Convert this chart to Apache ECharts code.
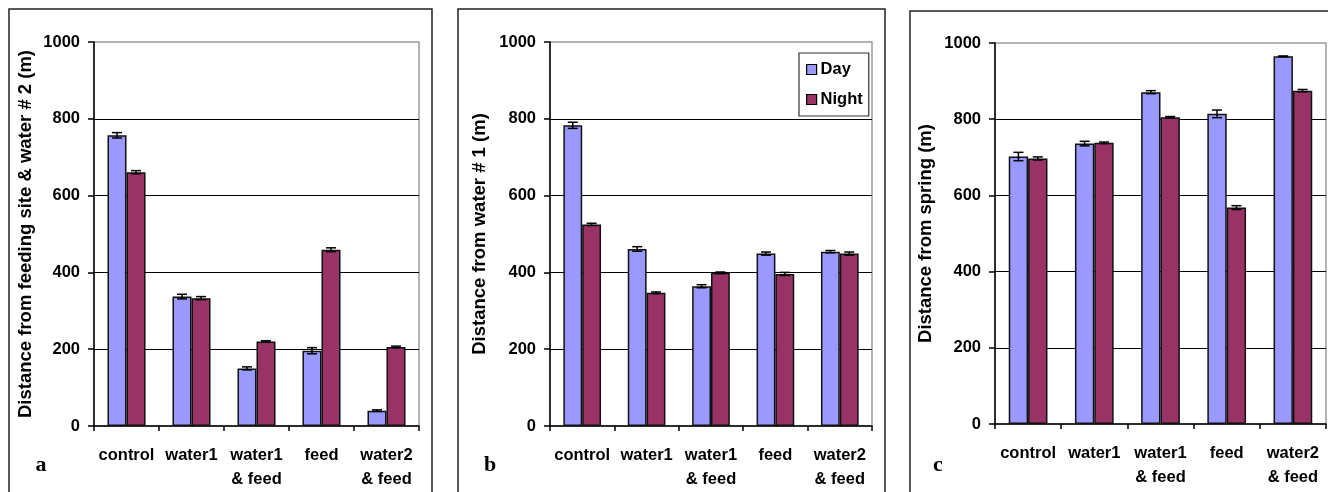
<!DOCTYPE html>
<html>
<head>
<meta charset="utf-8">
<script src="https://cdn.jsdelivr.net/npm/echarts@6/dist/echarts.min.js"></script>
<style>
  html, body { margin: 0; padding: 0; background: #fff; }
  #chart { width: 1328px; height: 492px; }
</style>
</head>
<body>
<div id="chart"></div>
<script>
// Treatment groups shared by all three panels
const categories = ['control', 'water1', 'water1\n& feed', 'feed', 'water2\n& feed'];
const yTicks = [0, 200, 400, 600, 800, 1000];

// Panel a: distance from feeding site & water #2 (m)
const aDay = [757, 337, 150, 196, 40];
const aDayErr = [7, 6, 4, 8, 2];
const aNight = [661, 333, 220, 459, 206];
const aNightErr = [4, 4, 2, 5, 2];

// Panel b: distance from water #1 (m)
const bDay = [783, 461, 364, 449, 454];
const bDayErr = [8, 6, 4, 4, 3];
const bNight = [525, 347, 399, 396, 449];
const bNightErr = [3, 2, 2, 4, 4];

// Panel c: distance from spring (m)
const cDay = [702, 736, 871, 814, 965];
const cDayErr = [11, 6, 4, 10, 1];
const cNight = [697, 738, 805, 568, 875];
const cNightErr = [4, 2, 2, 5, 3];

const panelTitles = [
  'Distance from feeding site & water # 2 (m)',
  'Distance from water # 1 (m)',
  'Distance from spring (m)'
];
const panelLetters = ['a', 'b', 'c'];

const DAY_COLOR = '#9999FF';
const NIGHT_COLOR = '#993366';
const FONT = '"Liberation Sans", Arial, sans-serif';
const CAT_GAP = 0.415;

const panels = [
  { day: aDay, dayErr: aDayErr, night: aNight, nightErr: aNightErr },
  { day: bDay, dayErr: bDayErr, night: bNight, nightErr: bNightErr },
  { day: cDay, dayErr: cDayErr, night: cNight, nightErr: cNightErr }
];

const grids = [
  { left: 94, right: 909, top: 42, bottom: 66 },
  { left: 550, right: 456, top: 42, bottom: 66 },
  { left: 995, right: 2, top: 43, bottom: 68 }
];
const nameGaps = [59, 61, 60];

const chart = echarts.init(document.getElementById('chart'), null, { renderer: 'canvas' });

// Error bars: vertical whisker with caps, offset to the day (-1) or night (+1) bar
function errorBarRenderer(side) {
  return function (params, api) {
    const idx = api.value(0);
    const val = api.value(1);
    const err = api.value(2);
    const catW = api.size([1, 0])[0];
    const barW = catW * (1 - CAT_GAP) / 2;
    const center = api.coord([idx, val]);
    const x = center[0] + side * barW / 2;
    const hi = api.coord([idx, val + err])[1];
    const lo = api.coord([idx, val - err])[1];
    const cap = 5;
    const style = { stroke: '#000', lineWidth: 1.5 };
    return {
      type: 'group',
      children: [
        { type: 'line', shape: { x1: x, y1: hi, x2: x, y2: lo }, style },
        { type: 'line', shape: { x1: x - cap, y1: hi, x2: x + cap, y2: hi }, style },
        { type: 'line', shape: { x1: x - cap, y1: lo, x2: x + cap, y2: lo }, style }
      ]
    };
  };
}

const series = [];
panels.forEach((p, i) => {
  series.push({
    name: 'Day', type: 'bar', xAxisIndex: i, yAxisIndex: i,
    data: p.day, barGap: '0%', barCategoryGap: (CAT_GAP * 100) + '%',
    itemStyle: { color: DAY_COLOR, borderColor: '#111', borderWidth: 1.5 },
    emphasis: { disabled: true }, animation: false
  });
  series.push({
    name: 'Night', type: 'bar', xAxisIndex: i, yAxisIndex: i,
    data: p.night, barGap: '0%', barCategoryGap: (CAT_GAP * 100) + '%',
    itemStyle: { color: NIGHT_COLOR, borderColor: '#111', borderWidth: 1.5 },
    emphasis: { disabled: true }, animation: false
  });
  series.push({
    type: 'custom', xAxisIndex: i, yAxisIndex: i, z: 5,
    renderItem: errorBarRenderer(-1),
    data: p.day.map((v, k) => [k, v, p.dayErr[k]]), animation: false, silent: true
  });
  series.push({
    type: 'custom', xAxisIndex: i, yAxisIndex: i, z: 5,
    renderItem: errorBarRenderer(1),
    data: p.night.map((v, k) => [k, v, p.nightErr[k]]), animation: false, silent: true
  });
});

const letterFont = 'bold 22px "Liberation Serif", "Times New Roman", serif';

const option = {
  animation: false,
  backgroundColor: '#fff',
  grid: grids.map(g => Object.assign({
    show: true, borderColor: '#9a9a9a', borderWidth: 1.5, backgroundColor: 'transparent'
  }, g)),
  xAxis: grids.map((g, i) => ({
    type: 'category', gridIndex: i, data: categories,
    axisLine: { lineStyle: { color: '#000', width: 1.5 } },
    axisTick: { show: true, length: 5, lineStyle: { color: '#000', width: 1.5 } },
    axisLabel: {
      color: '#000', fontFamily: FONT, fontWeight: 'bold', fontSize: 16.5,
      lineHeight: 24, margin: 17, interval: 0
    },
    splitLine: { show: false }
  })),
  yAxis: grids.map((g, i) => ({
    type: 'value', gridIndex: i, min: yTicks[0], max: yTicks[yTicks.length - 1],
    interval: yTicks[1] - yTicks[0],
    name: panelTitles[i], nameLocation: 'middle', nameRotate: 90, nameGap: nameGaps[i],
    nameTextStyle: { color: '#000', fontFamily: FONT, fontWeight: 'bold', fontSize: 18.5 },
    axisLine: { show: true, lineStyle: { color: '#000', width: 1.5 } },
    axisTick: { show: true, length: 6, lineStyle: { color: '#000', width: 1.5 } },
    axisLabel: {
      color: '#000', fontFamily: FONT, fontWeight: 'bold', fontSize: 16.5, margin: 14,
      formatter: v => String(v)
    },
    splitLine: { show: true, showMinLine: false, showMaxLine: false, lineStyle: { color: '#000', width: 1.2 } }
  })),
  legend: {
    data: ['Day', 'Night'],
    orient: 'vertical', left: 799, top: 53,
    padding: [8, 6, 8, 7], itemGap: 13,
    itemWidth: 10, itemHeight: 10, icon: 'rect',
    borderColor: '#333', borderWidth: 1.2, backgroundColor: '#fff',
    textStyle: { color: '#000', fontFamily: FONT, fontWeight: 'bold', fontSize: 16.5, padding: [0, 0, 0, -1] },
    itemStyle: { borderColor: '#000', borderWidth: 1.2 },
    selectedMode: false
  },
  graphic: [
    { type: 'rect', shape: { x: 9, y: 9, width: 423, height: 520 }, style: { fill: 'none', stroke: '#222', lineWidth: 1.5 }, z: 0 },
    { type: 'rect', shape: { x: 458, y: 9, width: 427, height: 520 }, style: { fill: 'none', stroke: '#222', lineWidth: 1.5 }, z: 0 },
    { type: 'rect', shape: { x: 910, y: 11, width: 500, height: 520 }, style: { fill: 'none', stroke: '#222', lineWidth: 1.5 }, z: 0 },
    { type: 'text', x: 41, y: 465, style: { text: panelLetters[0], font: letterFont, fill: '#000', textAlign: 'center', textVerticalAlign: 'middle' } },
    { type: 'text', x: 490, y: 465, style: { text: panelLetters[1], font: letterFont, fill: '#000', textAlign: 'center', textVerticalAlign: 'middle' } },
    { type: 'text', x: 938, y: 465, style: { text: panelLetters[2], font: letterFont, fill: '#000', textAlign: 'center', textVerticalAlign: 'middle' } }
  ],
  series
};

chart.setOption(option);
</script>
</body>
</html>
